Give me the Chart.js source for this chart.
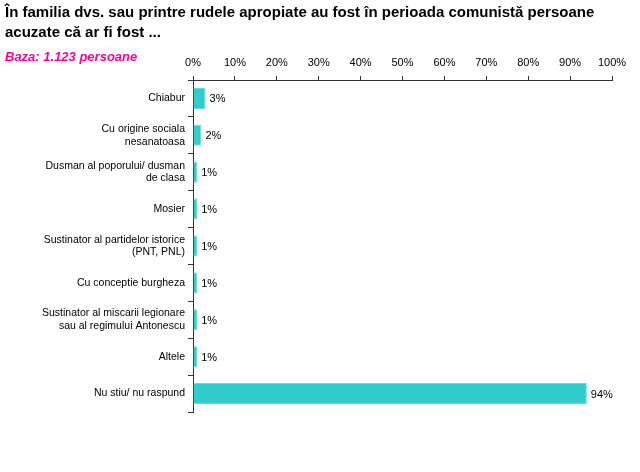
<!DOCTYPE html>
<html>
<head>
<meta charset="utf-8">
<script src="https://cdn.jsdelivr.net/npm/chart.js@4/dist/chart.umd.min.js"></script>
<style>
  body { margin: 0; background: #fff; }
</style>
</head>
<body>
<canvas id="chart" width="640" height="472"></canvas>
<script>
const titleLines = ["În familia dvs. sau printre rudele apropiate au fost în perioada comunistă persoane", "acuzate că ar fi fost ..."];
const baseText = "Baza: 1.123 persoane";

const categories = [
    "Chiabur",
    ["Cu origine sociala", "nesanatoasa"],
    ["Dusman al poporului/ dusman", "de clasa"],
    "Mosier",
    ["Sustinator al partidelor istorice", "(PNT, PNL)"],
    "Cu conceptie burgheza",
    ["Sustinator al miscarii legionare", "sau al regimului Antonescu"],
    "Altele",
    "Nu stiu/ nu raspund"
];
const values = [3, 2, 1, 1, 1, 1, 1, 1, 94];
const xTicks = [0, 10, 20, 30, 40, 50, 60, 70, 80, 90, 100];

// header text drawn straight on the canvas
const headerPlugin = {
    id: 'header',
    afterDraw(chart) {
        const ctx = chart.ctx;
        ctx.save();
        ctx.textAlign = 'left';
        ctx.textBaseline = 'alphabetic';
        ctx.fillStyle = '#000';
        ctx.font = 'bold 15px "Liberation Sans", Arial, sans-serif';
        ctx.fillText(titleLines[0], 5, 17);
        ctx.fillText(titleLines[1], 5, 37);
        ctx.fillStyle = '#FF0099';
        ctx.font = 'italic bold 13px "Liberation Sans", Arial, sans-serif';
        ctx.fillText(baseText, 5, 61);
        ctx.restore();
    }
};

// value labels at the end of each bar
const valueLabels = {
    id: 'valueLabels',
    afterDatasetsDraw(chart) {
        const ctx = chart.ctx;
        const meta = chart.getDatasetMeta(0);
        ctx.save();
        ctx.font = '11px "Liberation Sans", Arial, sans-serif';
        ctx.fillStyle = '#000';
        ctx.textAlign = 'left';
        ctx.textBaseline = 'middle';
        meta.data.forEach((bar, i) => {
            ctx.fillText(values[i] + '%', bar.x + 4, bar.y + 1);
        });
        ctx.restore();
    }
};

new Chart(document.getElementById('chart'), {
    type: 'bar',
    data: {
        labels: categories,
        datasets: [{
            data: values,
            backgroundColor: '#33CCCC',
            borderColor: '#66DDDD',
            borderWidth: 1,
            categoryPercentage: 1,
            barPercentage: 0.57
        }]
    },
    options: {
        indexAxis: 'y',
        responsive: false,
        animation: false,
        layout: { padding: { left: 0, right: 28, top: 0, bottom: 60 } },
        plugins: {
            legend: { display: false },
            tooltip: { enabled: false }
        },
        scales: {
            x: {
                position: 'top',
                min: 0,
                max: 100,
                afterFit(scale) { scale.height = 80; },
                afterBuildTicks(scale) { scale.ticks = xTicks.map(v => ({ value: v })); },
                ticks: {
                    callback: v => v + '%',
                    color: '#000',
                    padding: 6,
                    maxRotation: 0,
                    font: { family: '"Liberation Sans", Arial, sans-serif', size: 11 }
                },
                grid: { drawOnChartArea: false, tickLength: 4, color: '#333' },
                border: { color: '#333' }
            },
            y: {
                afterFit(scale) { scale.width = 193; },
                ticks: {
                    color: '#000',
                    padding: 3,
                    font: { family: '"Liberation Sans", Arial, sans-serif', size: 10.5 }
                },
                grid: { drawOnChartArea: false, offset: true, tickLength: 5, color: '#333' },
                border: { color: '#333' }
            }
        }
    },
    plugins: [headerPlugin, valueLabels]
});
</script>
</body>
</html>
